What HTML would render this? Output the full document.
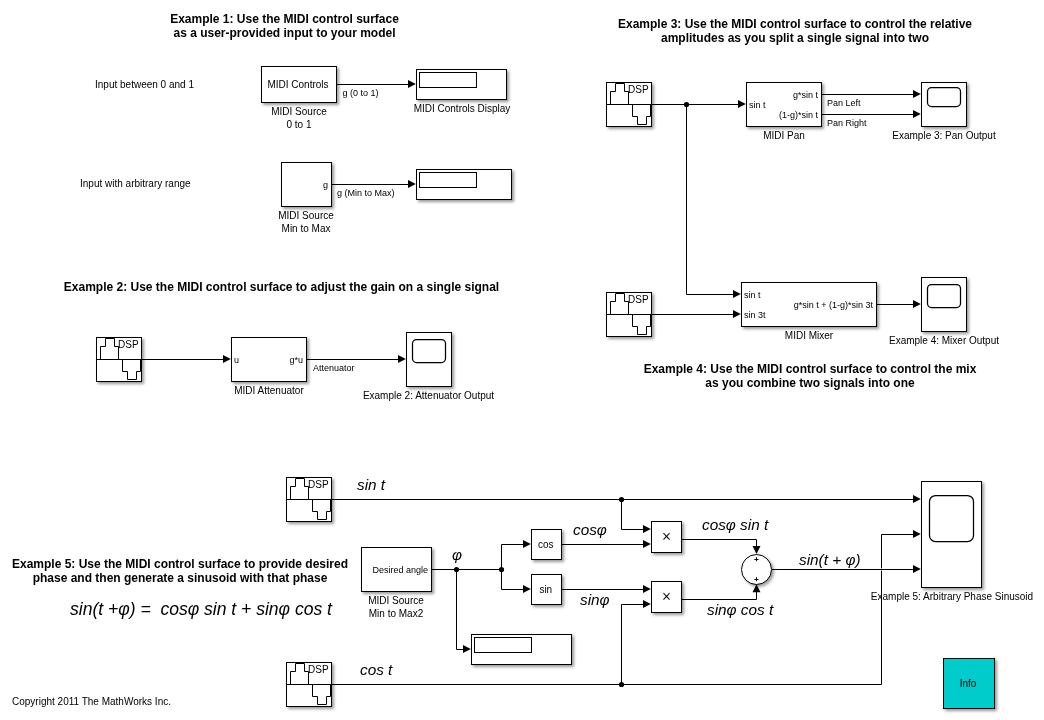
<!DOCTYPE html>
<html><head><meta charset="utf-8"><title>MIDI control surface model</title>
<style>
html,body{margin:0;padding:0;background:#fff;}
svg{display:block;will-change:transform}
text{font-family:"Liberation Sans",Arial,sans-serif;fill:#000;white-space:pre}
.t10{font-size:10px}
.t9{font-size:9px}
.t6{font-size:7.5px;stroke:#000;stroke-width:0.45px}
.tx{font-size:16px;font-family:'Liberation Serif',serif;stroke:#000;stroke-width:0.2px}
.tb{font-size:12px;font-weight:bold;fill:#000}
.ti{font-size:15.33px;font-style:italic}
.te{font-size:17.6px;font-style:italic}
.blk{stroke:#000;stroke-width:1;filter:url(#sh)}
.ic{stroke:#000;stroke-width:1;fill:none}
.ic2{stroke:#000;stroke-width:1.25;fill:none}
.ln{stroke:#000;stroke-width:1;fill:none}
.ah{fill:#000;stroke:none}
</style></head><body>
<svg width="1044" height="720" viewBox="0 0 1044 720">
<defs><filter id="sh" x="-20%" y="-20%" width="150%" height="150%"><feDropShadow dx="2" dy="2" stdDeviation="1.5" flood-color="#000" flood-opacity="0.4"/></filter></defs>
<rect x="0" y="0" width="1044" height="720" fill="#fff"/>
<text class="tb" x="284.5" y="23" text-anchor="middle">Example 1: Use the MIDI control surface</text>
<text class="tb" x="284.5" y="37" text-anchor="middle">as a user-provided input to your model</text>
<text class="t10" x="95" y="88">Input between 0 and 1</text>
<rect class="blk" x="261.5" y="66.5" width="75.0" height="36.0" fill="#fff"/>
<text class="t10" x="298" y="87.6" text-anchor="middle">MIDI Controls</text>
<text class="t10" x="299" y="114.5" text-anchor="middle">MIDI Source</text>
<text class="t10" x="299" y="127.5" text-anchor="middle">0 to 1</text>
<path class="ln" d="M337 84.5 L408.5 84.5"/>
<path class="ah" d="M415.8 84.1 L408 80.1 L408 88.1Z"/>
<text class="t9" x="342.5" y="95.5">g (0 to 1)</text>
<rect class="blk" x="416.5" y="69.5" width="90.0" height="30.0" fill="#fff"/>
<rect class="ic" x="419.5" y="72.5" width="57" height="15" fill="none"/>
<text class="t10" x="462" y="112" text-anchor="middle">MIDI Controls Display</text>
<text class="t10" x="80" y="187">Input with arbitrary range</text>
<rect class="blk" x="281.5" y="162.5" width="50.0" height="44.0" fill="#fff"/>
<text class="t9" x="328" y="188" text-anchor="end">g</text>
<path class="ln" d="M332 184.5 L408.5 184.5"/>
<path class="ah" d="M415.8 184.1 L408 180.1 L408 188.1Z"/>
<text class="t9" x="337" y="196">g (Min to Max)</text>
<rect class="blk" x="416.5" y="169.5" width="95.0" height="30.0" fill="#fff"/>
<rect class="ic" x="419.5" y="172.5" width="57" height="15" fill="none"/>
<text class="t10" x="306" y="218.5" text-anchor="middle">MIDI Source</text>
<text class="t10" x="306" y="231.5" text-anchor="middle">Min to Max</text>
<text class="tb" x="281.5" y="291" text-anchor="middle">Example 2: Use the MIDI control surface to adjust the gain on a single signal</text>
<rect class="blk" x="96.5" y="337.5" width="45.0" height="44.0" fill="#fff"/>
<path class="ic" d="M96.5 359.5 H141.5"/>
<path class="ic" d="M100.5 359.5 V346.5 H105.5 V338.5 H114.5 V346.5 H118.5 V359.5"/>
<path class="ic" d="M122.5 359.5 V371.5 H127.5 V379.5 H136.5 V371.5 H140.5 V359.5"/>
<text class="t10" x="118.1" y="347.5">DSP</text>
<path class="ln" d="M142 359.5 L223.5 359.5"/>
<path class="ah" d="M230.8 359.1 L223 355.1 L223 363.1Z"/>
<rect class="blk" x="231.5" y="337.5" width="75.0" height="44.0" fill="#fff"/>
<text class="t9" x="234" y="363">u</text>
<text class="t9" x="303" y="363" text-anchor="end">g*u</text>
<text class="t10" x="269" y="394" text-anchor="middle">MIDI Attenuator</text>
<path class="ln" d="M307 359.5 L398.5 359.5"/>
<path class="ah" d="M405.8 359.1 L398 355.1 L398 363.1Z"/>
<text class="t9" x="313" y="371">Attenuator</text>
<rect class="blk" x="406.5" y="332.5" width="45.0" height="54.0" fill="#fff"/>
<rect class="ic2" x="412.5" y="339.5" width="33.0" height="23.0" rx="4" fill="none"/>
<text class="t10" x="428.5" y="399" text-anchor="middle">Example 2: Attenuator Output</text>
<text class="tb" x="795" y="28" text-anchor="middle">Example 3: Use the MIDI control surface to control the relative</text>
<text class="tb" x="795" y="42" text-anchor="middle">amplitudes as you split a single signal into two</text>
<rect class="blk" x="606.5" y="82.5" width="45.0" height="44.0" fill="#fff"/>
<path class="ic" d="M606.5 104.5 H651.5"/>
<path class="ic" d="M610.5 104.5 V91.5 H615.5 V83.5 H624.5 V91.5 H628.5 V104.5"/>
<path class="ic" d="M632.5 104.5 V116.5 H637.5 V124.5 H646.5 V116.5 H650.5 V104.5"/>
<text class="t10" x="628.1" y="92.5">DSP</text>
<path class="ln" d="M652 104.5 L738.5 104.5"/>
<path class="ah" d="M745.8 104.1 L738 100.1 L738 108.1Z"/>
<path class="ln" d="M686.5 104.5 L686.5 294.5 L733.5 294.5"/>
<path class="ah" d="M740.8 294.1 L733 290.1 L733 298.1Z"/>
<circle cx="686.5" cy="104.5" r="2.6" fill="#000"/>
<rect class="blk" x="746.5" y="82.5" width="75.0" height="44.0" fill="#fff"/>
<text class="t9" x="749" y="108">sin t</text>
<text class="t9" x="818" y="98" text-anchor="end">g*sin t</text>
<text class="t9" x="818" y="118" text-anchor="end">(1-g)*sin t</text>
<text class="t10" x="784" y="139" text-anchor="middle">MIDI Pan</text>
<path class="ln" d="M822 94.5 L913.5 94.5"/>
<path class="ah" d="M920.8 94.1 L913 90.1 L913 98.1Z"/>
<path class="ln" d="M822 114.5 L913.5 114.5"/>
<path class="ah" d="M920.8 114.1 L913 110.1 L913 118.1Z"/>
<text class="t9" x="827" y="106">Pan Left</text>
<text class="t9" x="827" y="126">Pan Right</text>
<rect class="blk" x="921.5" y="82.5" width="45.0" height="44.0" fill="#fff"/>
<rect class="ic2" x="927.5" y="87.5" width="33.0" height="19.0" rx="4" fill="none"/>
<text class="t10" x="944" y="139" text-anchor="middle">Example 3: Pan Output</text>
<rect class="blk" x="606.5" y="292.5" width="45.0" height="44.0" fill="#fff"/>
<path class="ic" d="M606.5 314.5 H651.5"/>
<path class="ic" d="M610.5 314.5 V301.5 H615.5 V293.5 H624.5 V301.5 H628.5 V314.5"/>
<path class="ic" d="M632.5 314.5 V326.5 H637.5 V334.5 H646.5 V326.5 H650.5 V314.5"/>
<text class="t10" x="628.1" y="302.5">DSP</text>
<path class="ln" d="M652 314.5 L733.5 314.5"/>
<path class="ah" d="M740.8 314.1 L733 310.1 L733 318.1Z"/>
<rect class="blk" x="741.5" y="282.5" width="135.0" height="44.0" fill="#fff"/>
<text class="t9" x="744" y="298">sin t</text>
<text class="t9" x="744" y="318">sin 3t</text>
<text class="t9" x="873" y="308" text-anchor="end">g*sin t + (1-g)*sin 3t</text>
<text class="t10" x="809" y="339" text-anchor="middle">MIDI Mixer</text>
<path class="ln" d="M877 304.5 L913.5 304.5"/>
<path class="ah" d="M920.8 304.1 L913 300.1 L913 308.1Z"/>
<rect class="blk" x="921.5" y="277.5" width="45.0" height="54.0" fill="#fff"/>
<rect class="ic2" x="927.5" y="284.5" width="33.0" height="23.0" rx="4" fill="none"/>
<text class="t10" x="944" y="344" text-anchor="middle">Example 4: Mixer Output</text>
<text class="tb" x="810" y="373" text-anchor="middle">Example 4: Use the MIDI control surface to control the mix</text>
<text class="tb" x="810" y="387" text-anchor="middle">as you combine two signals into one</text>
<rect class="blk" x="286.5" y="477.5" width="45.0" height="44.0" fill="#fff"/>
<path class="ic" d="M286.5 499.5 H331.5"/>
<path class="ic" d="M290.5 499.5 V486.5 H295.5 V478.5 H304.5 V486.5 H308.5 V499.5"/>
<path class="ic" d="M312.5 499.5 V511.5 H317.5 V519.5 H326.5 V511.5 H330.5 V499.5"/>
<text class="t10" x="308.1" y="487.5">DSP</text>
<path class="ln" d="M332 499.5 L913.5 499.5"/>
<path class="ah" d="M920.8 499.1 L913 495.1 L913 503.1Z"/>
<text class="ti" x="357" y="490">sin t</text>
<rect class="blk" x="286.5" y="662.5" width="45.0" height="44.0" fill="#fff"/>
<path class="ic" d="M286.5 684.5 H331.5"/>
<path class="ic" d="M290.5 684.5 V671.5 H295.5 V663.5 H304.5 V671.5 H308.5 V684.5"/>
<path class="ic" d="M312.5 684.5 V696.5 H317.5 V704.5 H326.5 V696.5 H330.5 V684.5"/>
<text class="t10" x="308.1" y="672.5">DSP</text>
<path class="ln" d="M332 684.5 L881.5 684.5 L881.5 534.5 L913.5 534.5"/>
<path class="ah" d="M920.8 534.1 L913 530.1 L913 538.1Z"/>
<text class="ti" x="360" y="675">cos t</text>
<rect class="blk" x="361.5" y="547.5" width="70.0" height="44.0" fill="#fff"/>
<text class="t9" x="428" y="573" text-anchor="end">Desired angle</text>
<text class="t10" x="396" y="604" text-anchor="middle">MIDI Source</text>
<text class="t10" x="396" y="617" text-anchor="middle">Min to Max2</text>
<path class="ln" d="M432 569.5 L501.5 569.5"/>
<text class="ti" x="452" y="560">φ</text>
<path class="ln" d="M456.5 569.5 L456.5 649.5 L463.5 649.5"/>
<path class="ah" d="M470.8 649.1 L463 645.1 L463 653.1Z"/>
<rect class="blk" x="471.5" y="634.5" width="100.0" height="30.0" fill="#fff"/>
<rect class="ic" x="474.5" y="637.5" width="57" height="15" fill="none"/>
<path class="ln" d="M501.5 569.5 L501.5 544.5 L523.5 544.5"/>
<path class="ah" d="M530.8 544.1 L523 540.1 L523 548.1Z"/>
<path class="ln" d="M501.5 569.5 L501.5 589.5 L523.5 589.5"/>
<path class="ah" d="M530.8 589.1 L523 585.1 L523 593.1Z"/>
<circle cx="456.5" cy="569.5" r="2.6" fill="#000"/>
<circle cx="501.5" cy="569.5" r="2.6" fill="#000"/>
<rect class="blk" x="531.5" y="529.5" width="30.0" height="30.0" fill="#fff"/>
<text class="t10" x="545.8" y="548" text-anchor="middle">cos</text>
<rect class="blk" x="531.5" y="574.5" width="30.0" height="30.0" fill="#fff"/>
<text class="t10" x="545.8" y="593" text-anchor="middle">sin</text>
<path class="ln" d="M562 544.5 L643.5 544.5"/>
<path class="ah" d="M650.8 544.1 L643 540.1 L643 548.1Z"/>
<text class="ti" x="573" y="535">cosφ</text>
<path class="ln" d="M562 589.5 L643.5 589.5"/>
<path class="ah" d="M650.8 589.1 L643 585.1 L643 593.1Z"/>
<text class="ti" x="580" y="605">sinφ</text>
<path class="ln" d="M621.5 499.5 L621.5 529.5 L643.5 529.5"/>
<path class="ah" d="M650.8 529.1 L643 525.1 L643 533.1Z"/>
<path class="ln" d="M621.5 684.5 L621.5 604.5 L643.5 604.5"/>
<path class="ah" d="M650.8 604.1 L643 600.1 L643 608.1Z"/>
<circle cx="621.5" cy="499.5" r="2.6" fill="#000"/>
<circle cx="621.5" cy="684.5" r="2.6" fill="#000"/>
<rect class="blk" x="651.5" y="521.5" width="30.0" height="31.0" fill="#fff"/>
<text class="tx" x="666.5" y="541.5" text-anchor="middle">×</text>
<rect class="blk" x="651.5" y="581.5" width="30.0" height="31.0" fill="#fff"/>
<text class="tx" x="666.5" y="601.5" text-anchor="middle">×</text>
<path class="ln" d="M682 539.5 L756.5 539.5 L756.5 546.5"/>
<path class="ah" d="M756.5 554 L752.5 546 L760.5 546Z"/>
<text class="ti" x="702" y="530">cosφ sin t</text>
<path class="ln" d="M682 599.5 L756.5 599.5 L756.5 591.8"/>
<path class="ah" d="M756.5 584.3 L752.5 592.3 L760.5 592.3Z"/>
<text class="ti" x="707" y="615">sinφ cos t</text>
<circle class="blk" cx="756.5" cy="569.5" r="15" fill="#fff"/>
<text class="t6" x="756.5" y="562.3" text-anchor="middle">+</text>
<text class="t6" x="756.5" y="582.0" text-anchor="middle">+</text>
<path d="M880.5 569.5 H882.5" stroke="#fff" stroke-width="3" stroke-opacity="0.65" fill="none"/>
<path class="ln" d="M772 569.5 L913.5 569.5"/>
<path class="ah" d="M920.8 569.1 L913 565.1 L913 573.1Z"/>
<text class="ti" x="799" y="565">sin(t + φ)</text>
<rect class="blk" x="921.5" y="481.5" width="60.0" height="106.0" fill="#fff"/>
<rect class="ic2" x="929.5" y="495.5" width="44.0" height="46.0" rx="6" fill="none"/>
<text class="t10" x="952" y="600" text-anchor="middle">Example 5: Arbitrary Phase Sinusoid</text>
<rect class="blk" x="943.5" y="658.5" width="51.0" height="50.0" fill="#00cccc"/>
<text class="t10" x="968" y="687" text-anchor="middle">Info</text>
<text class="tb" x="180" y="568" text-anchor="middle">Example 5: Use the MIDI control surface to provide desired</text>
<text class="tb" x="180" y="582" text-anchor="middle">phase and then generate a sinusoid with that phase</text>
<text class="te" x="70" y="615" textLength="262">sin(t +φ) =  cosφ sin t + sinφ cos t</text>
<text class="t10" x="12" y="705">Copyright 2011 The MathWorks Inc.</text>
</svg>
</body></html>
